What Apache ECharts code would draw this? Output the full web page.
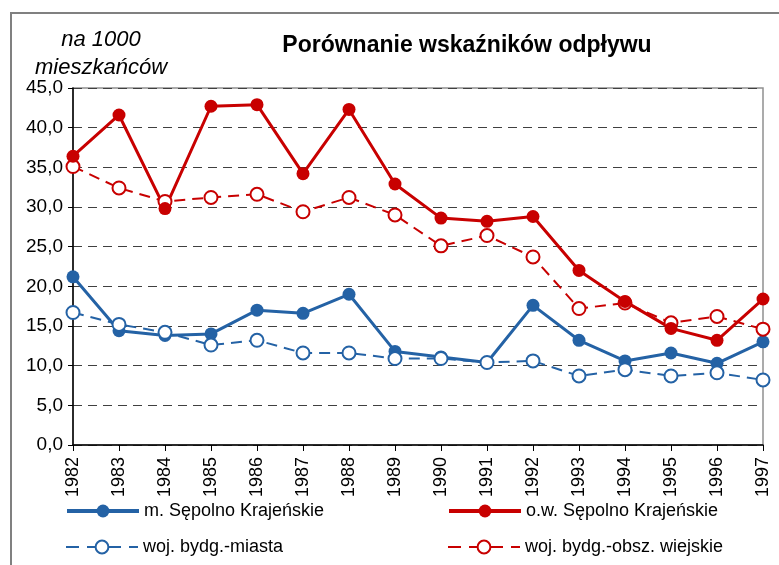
<!DOCTYPE html>
<html>
<head>
<meta charset="utf-8">
<title>Porównanie wskaźników odpływu</title>
<script src="https://cdn.jsdelivr.net/npm/echarts@6/dist/echarts.min.js"></script>
<style>
    html, body { margin: 0; padding: 0; background: #fff; }
    #chart { width: 779px; height: 565px; }
</style>
</head>
<body>
<div id="chart"></div>
<script>
    // lata
    var years = ['1982', '1983', '1984', '1985', '1986', '1987', '1988', '1989',
                 '1990', '1991', '1992', '1993', '1994', '1995', '1996', '1997'];

    // wskaźniki odpływu na 1000 mieszkańców
    var miastoSepolno = [21.2, 14.4, 13.8, 14.0, 17.0, 16.6, 19.0, 11.8,
                         11.1, 10.4, 17.6, 13.2, 10.6, 11.6, 10.3, 13.0];
    var gminaSepolno  = [36.4, 41.6, 29.8, 42.7, 42.9, 34.2, 42.3, 32.9,
                         28.6, 28.2, 28.8, 22.0, 18.1, 14.7, 13.2, 18.4];
    var wojMiasta     = [16.7, 15.2, 14.2, 12.6, 13.2, 11.6, 11.6, 10.9,
                         10.9, 10.4, 10.6, 8.7, 9.5, 8.7, 9.1, 8.2];
    var wojWies       = [35.1, 32.4, 30.7, 31.2, 31.6, 29.4, 31.2, 29.0,
                         25.1, 26.4, 23.7, 17.2, 17.9, 15.4, 16.2, 14.6];

    var names = ['m. Sępolno Krajeńskie', 'o.w. Sępolno Krajeńskie',
                 'woj. bydg.-miasta', 'woj. bydg.-obsz. wiejskie'];

    var BLUE = '#2462A5';
    var RED = '#C80000';
    var FONT = 'Liberation Sans, Arial, sans-serif';

    var chart = echarts.init(document.getElementById('chart'));

    function solid(name, data, color) {
        return {
            name: name,
            type: 'line',
            data: data,
            symbol: 'circle',
            symbolSize: 13,
            itemStyle: { color: color },
            lineStyle: { color: color, width: 3 },
            animation: false
        };
    }

    function dashed(name, data, color) {
        return {
            name: name,
            type: 'line',
            data: data,
            symbol: 'emptyCircle',
            symbolSize: 13,
            itemStyle: { color: color, borderWidth: 1.5 },
            lineStyle: { color: color, width: 2, type: [11, 7] },
            animation: false
        };
    }

    // jedna legenda na pozycje
    function legendItem(name, left, top, lineWidth, dash) {
        return {
            data: [name],
            left: left,
            top: top,
            padding: 0,
            itemWidth: 72,
            itemHeight: 16,
            lineStyle: { width: lineWidth, type: dash },
            textStyle: { fontFamily: FONT, fontSize: 18, color: '#000' }
        };
    }

    chart.setOption({
        animation: false,
        textStyle: { fontFamily: FONT },
        title: {
            text: 'Porównanie wskaźników odpływu',
            left: 462,
            textAlign: 'center',
            top: 29,
            textStyle: { fontFamily: FONT, fontSize: 23, fontWeight: 'bold', color: '#000' }
        },
        graphic: [
            {
                type: 'rect',
                shape: { x: 11, y: 13, width: 800, height: 600 },
                style: { fill: 'none', stroke: '#808080', lineWidth: 2 },
                silent: true
            },
            {
                type: 'text',
                x: 101,
                y: 26,
                style: {
                    text: 'na 1000\nmieszkańców',
                    align: 'center',
                    font: 'italic 22px ' + FONT,
                    lineHeight: 28,
                    fill: '#000'
                }
            }
        ],
        legend: [
            legendItem(names[0], 65, 502, 4, 'solid'),
            legendItem(names[2], 65, 538, 2, [13, 8]),
            legendItem(names[1], 447, 502, 4, 'solid'),
            legendItem(names[3], 447, 538, 2, [13, 8])
        ],
        grid: {
            left: 73,
            right: 16,
            top: 88,
            bottom: 120,
            show: true,
            borderColor: '#909090',
            borderWidth: 1.5
        },
        xAxis: {
            type: 'category',
            data: years,
            boundaryGap: false,
            axisLine: { lineStyle: { color: '#000', width: 1.5 } },
            axisTick: { show: true, length: 6, alignWithLabel: true, lineStyle: { color: '#000' } },
            axisLabel: { rotate: 90, margin: 12, fontSize: 18, color: '#000', fontFamily: FONT, interval: 0 }
        },
        yAxis: {
            type: 'value',
            min: 0,
            max: 45,
            interval: 5,
            axisLine: { show: true, lineStyle: { color: '#000', width: 1.5 } },
            axisTick: { show: true, length: 5, lineStyle: { color: '#000' } },
            axisLabel: {
                margin: 10,
                fontSize: 19,
                color: '#000',
                fontFamily: FONT,
                formatter: function (v) { return v.toFixed(1).replace('.', ','); }
            },
            splitLine: { lineStyle: { color: '#404040', width: 1, type: [9, 6] } }
        },
        series: [
            solid(names[0], miastoSepolno, BLUE),
            dashed(names[2], wojMiasta, BLUE),
            dashed(names[3], wojWies, RED),
            solid(names[1], gminaSepolno, RED)
        ]
    });
</script>
</body>
</html>
